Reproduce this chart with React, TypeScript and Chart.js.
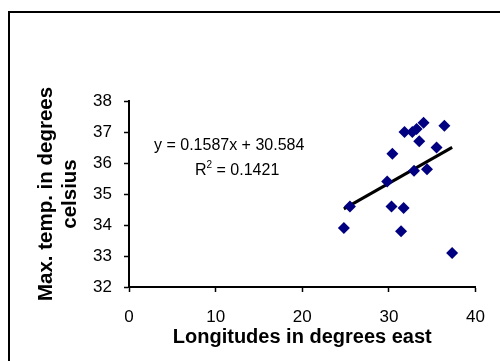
import React, { useEffect, useRef } from "react";
import { Chart, registerables } from "chart.js";

Chart.register(...registerables);

// Data
const longitudes = [24.8, 25.5, 29.8, 30.3, 30.4, 31.4, 31.7, 31.8, 32.7, 33.2, 33.5, 34.0, 32.9, 34.4, 35.5, 36.4, 37.3];
const maxTemps = [33.9, 34.6, 35.4, 34.6, 36.3, 33.8, 34.55, 37.0, 37.0, 37.1, 36.7, 37.3, 35.75, 35.8, 36.5, 37.2, 33.1];

const slope = 0.1587;
const intercept = 30.584;
const rSquared = "0.1421";
const equationText = "y = 0.1587x + 30.584";

const xTicks = [0, 10, 20, 30, 40];
const yTicks = [32, 33, 34, 35, 36, 37, 38];

const xTitle = "Longitudes in degrees east";
const yTitle = ["Max. temp. in degrees", "celsius"];

const FONT = "Arial, 'Liberation Sans', sans-serif";

export default function App() {
  const ref = useRef<HTMLCanvasElement | null>(null);

  useEffect(() => {
    if (!ref.current) return;
    const scatter = longitudes.map((x, i) => ({ x, y: maxTemps[i] }));
    const xMin = Math.min(...longitudes);
    const xMax = Math.max(...longitudes);
    const trend = [
      { x: xMin, y: intercept + slope * xMin },
      { x: xMax, y: intercept + slope * xMax },
    ];

    const framePlugin = {
      id: "frame",
      beforeDraw(chart: any) {
        const ctx = chart.ctx;
        ctx.save();
        ctx.fillStyle = "#ffffff";
        ctx.fillRect(0, 0, chart.width, chart.height);
        ctx.strokeStyle = "#000000";
        ctx.lineWidth = 2;
        ctx.strokeRect(9, 12, 700, 700);
        ctx.restore();
      },
      afterDraw(chart: any) {
        const ctx = chart.ctx;
        ctx.save();
        ctx.fillStyle = "#000000";
        ctx.textBaseline = "middle";
        ctx.textAlign = "left";
        ctx.font = `16px ${FONT}`;
        ctx.fillText(equationText, 154, 146);
        const r = "R";
        ctx.fillText(r, 195, 171);
        const rw = ctx.measureText(r).width;
        ctx.font = `10px ${FONT}`;
        ctx.fillText("2", 195 + rw, 165);
        const sw = ctx.measureText("2").width;
        ctx.font = `16px ${FONT}`;
        ctx.fillText(" = " + rSquared, 195 + rw + sw, 171);
        ctx.restore();
      },
    };

    const chart = new Chart(ref.current, {
      type: "scatter",
      data: {
        datasets: [
          {
            data: scatter,
            pointStyle: "rectRot",
            pointRadius: 6,
            backgroundColor: "#000080",
            borderColor: "#000080",
            borderWidth: 0,
          },
          {
            type: "line",
            data: trend,
            borderColor: "#000000",
            borderWidth: 3,
            pointRadius: 0,
            showLine: true,
            fill: false,
          } as any,
        ],
      },
      options: {
        responsive: false,
        animation: false,
        layout: { padding: { left: 0, right: 24, top: 101, bottom: 0 } },
        plugins: { legend: { display: false }, tooltip: { enabled: false } },
        scales: {
          x: {
            type: "linear",
            min: 0,
            max: 40,
            afterBuildTicks: (s: any) => {
              s.ticks = xTicks.map((v) => ({ value: v }));
            },
            afterFit: (s: any) => {
              s.height = 74;
            },
            ticks: {
              color: "#000000",
              font: { family: FONT, size: 17 },
              padding: 15,
              maxRotation: 0,
            },
            grid: {
              drawOnChartArea: false,
              drawTicks: true,
              tickLength: 5,
              color: "#000000",
              tickWidth: 1.5,
            },
            border: { color: "#000000", width: 2 },
            title: {
              display: true,
              text: xTitle,
              color: "#000000",
              font: { family: FONT, size: 20, weight: "bold", lineHeight: 1.15 },
              padding: { top: 0, bottom: 12 },
            },
          },
          y: {
            type: "linear",
            min: 32,
            max: 38,
            afterBuildTicks: (s: any) => {
              s.ticks = yTicks.map((v) => ({ value: v }));
            },
            afterFit: (s: any) => {
              s.width = 129;
            },
            ticks: {
              color: "#000000",
              font: { family: FONT, size: 17 },
              padding: 12,
            },
            grid: {
              drawOnChartArea: false,
              drawTicks: true,
              tickLength: 5,
              color: "#000000",
              tickWidth: 1.5,
            },
            border: { color: "#000000", width: 2 },
            title: {
              display: true,
              text: yTitle,
              color: "#000000",
              font: { family: FONT, size: 20.5, weight: "bold", lineHeight: 1.15 },
              padding: { top: 34.5, bottom: 0 },
            },
          },
        },
      },
      plugins: [framePlugin],
    });
    return () => chart.destroy();
  }, []);

  return (
    <div style={{ position: "absolute", left: 0, top: 0, width: 500, height: 361, overflow: "hidden" }}>
      <canvas ref={ref} width={500} height={361} style={{ width: 500, height: 361, display: "block" }} />
    </div>
  );
}
